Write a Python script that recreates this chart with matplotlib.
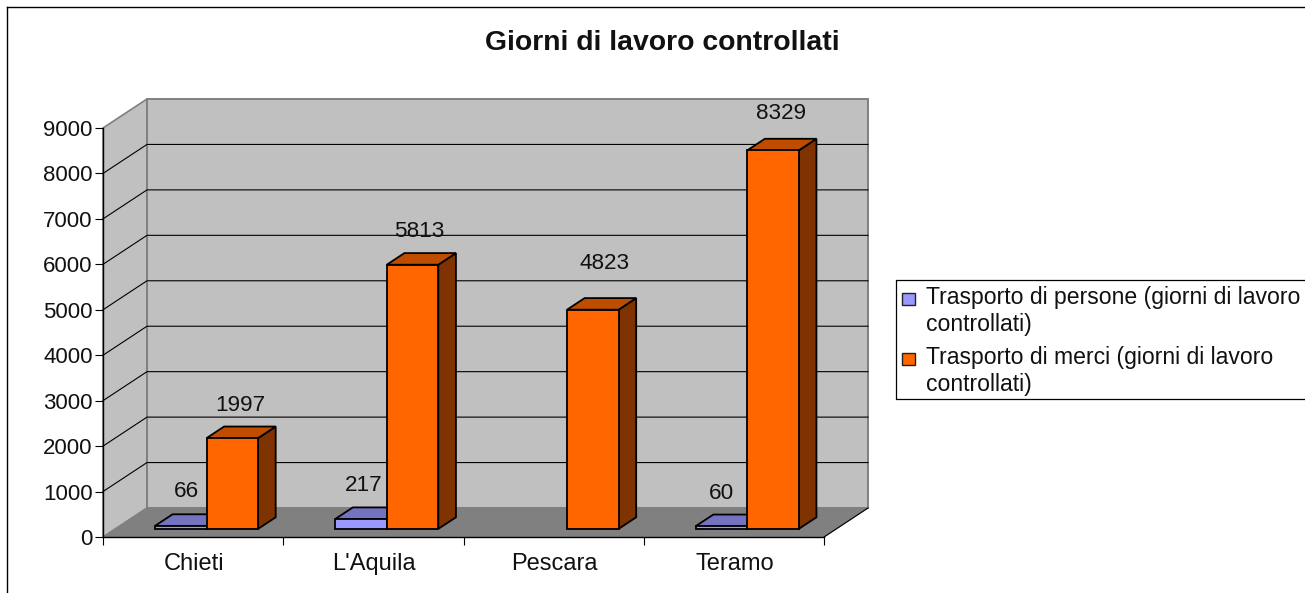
import numpy as np
import matplotlib
matplotlib.use('Agg')
import matplotlib.pyplot as plt
from matplotlib.patches import Polygon, Rectangle

categories = ["Chieti", "L'Aquila", "Pescara", "Teramo"]
persone = [66, 217, None, 60]
merci = [1997, 5813, 4823, 8329]
series_names = ["Trasporto di persone (giorni di lavoro\ncontrollati)",
                "Trasporto di merci (giorni di lavoro\ncontrollati)"]
y_ticks = [0, 1000, 2000, 3000, 4000, 5000, 6000, 7000, 8000, 9000]

W, H = 1305, 593
plt.rcParams['font.family'] = ['Liberation Sans', 'DejaVu Sans']
fig = plt.figure(figsize=(W / 100, H / 100), dpi=100)
ax = fig.add_axes([103 / W, 1 - 537 / H, 721 / W, 409 / H])
ax.set_xlim(0, len(categories))
ax.set_ylim(0, 9000)
ax.patch.set_alpha(0)

# depth of the 3d box, in data units
ddx = 44 / 721 * len(categories)
ddy = 29 / 409 * 9000


def proj(x, y, d):
    return (x + d * ddx, y + d * ddy)


def poly(pts, fc, ec, lw, z):
    ax.add_patch(Polygon(pts, closed=True, fc=fc, ec=ec, lw=lw, zorder=z,
                         clip_on=False, joinstyle='miter'))


n = len(categories)
ymax = y_ticks[-1]
# walls and floor
poly([proj(0, 0, 0), proj(0, ymax, 0), proj(0, ymax, 1), proj(0, 0, 1)], '#c0c0c0', '#808080', 1.2, 1)
poly([proj(0, 0, 1), proj(0, ymax, 1), proj(n, ymax, 1), proj(n, 0, 1)], '#c0c0c0', '#808080', 1.4, 1)
poly([proj(0, 0, 0), proj(0, 0, 1), proj(n, 0, 1), proj(n, 0, 0)], '#808080', '#808080', 0.8, 1)
for t in y_ticks[1:-1]:
    a, b, c = proj(0, t, 0), proj(0, t, 1), proj(n, t, 1)
    ax.plot([a[0], b[0], c[0]], [a[1], b[1], c[1]], color='black', lw=0.8, zorder=2, clip_on=False)
a, b = proj(n, 0, 0), proj(n, 0, 1)
ax.plot([a[0], b[0]], [a[1], b[1]], color='black', lw=0.8, zorder=2, clip_on=False)

d0, d1 = 0.28, 0.68


def bar3d(x, w, v, front, top, side, z):
    poly([proj(x, 0, d0), proj(x + w, 0, d0), proj(x + w, v, d0), proj(x, v, d0)], front, 'black', 1.3, z + 0.2)
    poly([proj(x, v, d0), proj(x + w, v, d0), proj(x + w, v, d1), proj(x, v, d1)], top, 'black', 1.3, z + 0.1)
    poly([proj(x + w, 0, d0), proj(x + w, 0, d1), proj(x + w, v, d1), proj(x + w, v, d0)], side, 'black', 1.3, z)


bw = 0.286
off = (1 - 2 * bw) / 2 + 0.006
for i in range(n):
    if persone[i] is not None:
        bar3d(i + off, bw, persone[i], '#9999ff', '#7373bf', '#4d4d80', 3 + i)
    bar3d(i + off + bw, bw, merci[i], '#ff6600', '#bf4d00', '#7f3300', 3.5 + i)

# labels sit above the bars, offsets in pixels
label_persone = [(6, 34), (3, 34), (0, 0), (0, 33)]
label_merci = [(8, 33), (7, 33), (12, 46), (8, 37)]
for i in range(n):
    front = proj(i + off + bw * 0.5, 0, d0)[0]
    if persone[i] is not None:
        ax.annotate(str(persone[i]), (front, proj(0, persone[i], d0)[1]), xytext=(label_persone[i][0] * 0.72, label_persone[i][1] * 0.72),
                    textcoords='offset points', ha='center', va='center', fontsize=16.2, color='#111111', zorder=20, annotation_clip=False)
    front = proj(i + off + bw * 1.5, 0, d0)[0]
    ax.annotate(str(merci[i]), (front, proj(0, merci[i], d0)[1]), xytext=(label_merci[i][0] * 0.72, label_merci[i][1] * 0.72),
                textcoords='offset points', ha='center', va='center', fontsize=16.2, color='#111111', zorder=20, annotation_clip=False)

for s in ['top', 'right']:
    ax.spines[s].set_visible(False)
for s in ['left', 'bottom']:
    ax.spines[s].set_linewidth(1.0)
    ax.spines[s].set_zorder(10)
ax.set_yticks(y_ticks)
ax.set_xticks(np.arange(n + 1))
ax.set_xticklabels([])
ax.set_xticks(np.arange(n) + 0.505, categories, minor=True)
ax.tick_params(axis='x', which='major', length=6, width=0.8)
ax.tick_params(axis='x', which='minor', length=0, pad=11.5, labelsize=17, labelcolor='#111111')
ax.tick_params(axis='y', length=6, width=0.8, pad=1.5, labelsize=16, labelcolor='#111111')

fig.text(662 / W, 1 - 43 / H, 'Giorni di lavoro controllati', ha='center', va='center',
         fontsize=20.4, fontweight='bold', color='#111111')

# legend box runs off the right edge, swatches line up with the first text line
lx, ltop, lbot = 896, 280, 399
fig.add_artist(plt.Line2D([1, lx / W, lx / W, 1], [1 - ltop / H, 1 - ltop / H, 1 - lbot / H, 1 - lbot / H], color='black', lw=0.9))
for name, col, yy in zip(series_names, ['#9999ff', '#ff6600'], [311, 371]):
    fig.add_artist(Rectangle((902.5 / W, 1 - (yy - 12 + 6) / H), 12 / W, 12 / H, transform=fig.transFigure,
                             fc=col, ec='#222222', lw=1.0))
    fig.text(926 / W, 1 - yy / H, name, ha='left', va='center', fontsize=16.6, linespacing=1.17, color='#111111')

# outer chart frame
fig.add_artist(plt.Line2D([7 / W, 7 / W], [0, 1 - 7 / H], color='black', lw=1.0))
fig.add_artist(plt.Line2D([7 / W, 1], [1 - 7 / H, 1 - 7 / H], color='black', lw=1.0))

fig.savefig('out.png', dpi=100)
